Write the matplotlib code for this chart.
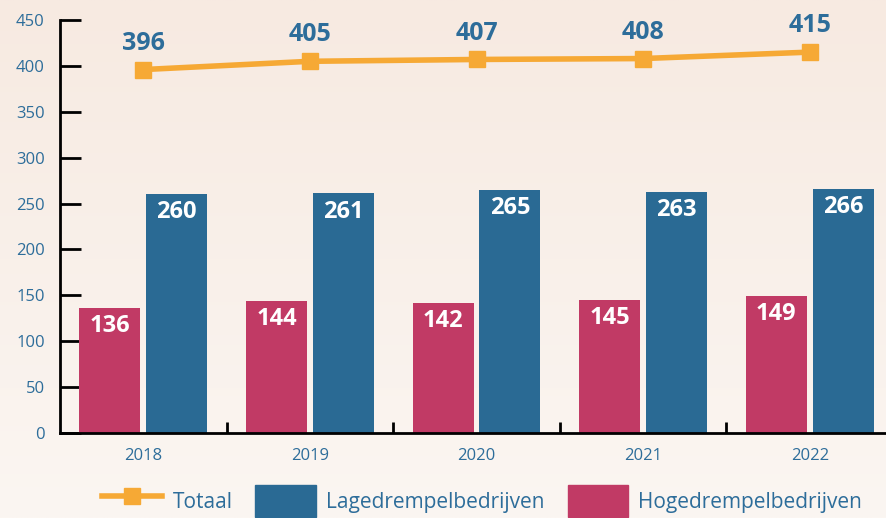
import numpy as np
import matplotlib
matplotlib.use("Agg")
import matplotlib.pyplot as plt
from matplotlib.lines import Line2D
from matplotlib.patches import Patch

plt.rcParams['font.family'] = ['Open Sans', 'DejaVu Sans']

years = ["2018", "2019", "2020", "2021", "2022"]
hoge = [136, 144, 142, 145, 149]
lage = [260, 261, 265, 263, 266]
totaal = [396, 405, 407, 408, 415]
yticks = [0, 50, 100, 150, 200, 250, 300, 350, 400, 450]

BLUE = "#2a6a94"
PINK = "#c13a65"
ORANGE = "#f6a935"
TXT = "#2d6d9a"

W, H = 886, 518
fig = plt.figure(figsize=(W / 100, H / 100), dpi=100)

# background gradient
bg = fig.add_axes([0, 0, 1, 1], zorder=-10)
top = np.array([247, 234, 225]) / 255
bot = np.array([251, 246, 242]) / 255
t = np.linspace(0, 1, 256)[:, None]
grad = top[None, None, :] * (1 - t[:, :, None]) + bot[None, None, :] * t[:, :, None]
grad = np.repeat(grad, 4, axis=1)
bg.imshow(grad, aspect='auto', extent=[0, 1, 0, 1], origin='upper')
bg.axis('off')

ax = fig.add_axes([60 / W, (H - 433) / H, 833 / W, 413 / H])
ax.patch.set_alpha(0)

x = np.arange(len(years))
bw = 0.366
off = 0.2
ax.bar(x - off, hoge, bw, color=PINK, zorder=2)
ax.bar(x + off, lage, bw, color=BLUE, zorder=2)
ax.plot(x, totaal, color=ORANGE, lw=4, marker='s', ms=11, zorder=3,
        solid_capstyle='round')

for xi, v in zip(x, hoge):
    ax.annotate(str(v), (xi - off, v), xytext=(0, -13), textcoords='offset points',
                ha='center', va='center', color='white', fontsize=17, fontweight='bold')
for xi, v in zip(x, lage):
    ax.annotate(str(v), (xi + off, v), xytext=(0, -13), textcoords='offset points',
                ha='center', va='center', color='white', fontsize=17, fontweight='bold')
for xi, v in zip(x, totaal):
    ax.annotate(str(v), (xi, v), xytext=(0, 19), textcoords='offset points',
                ha='center', va='center', color=TXT, fontsize=18, fontweight='bold')

ax.set_xlim(-0.5, len(years) - 0.5)
ax.set_ylim(0, 450)
ax.set_yticks(yticks)
ax.set_xticks(x)
ax.set_xticklabels(years)
ax.set_xticks(np.arange(len(years)) + 0.5, minor=True)

for s in ['top', 'right']:
    ax.spines[s].set_visible(False)
for s in ['left', 'bottom']:
    ax.spines[s].set_linewidth(2)
    ax.spines[s].set_color('black')

ax.tick_params(axis='y', direction='in', length=15, width=2, pad=11,
               labelsize=12, labelcolor=TXT, color='black')
ax.tick_params(axis='x', which='major', length=0, pad=11, labelsize=12, labelcolor=TXT)
ax.tick_params(axis='x', which='minor', direction='in', length=8, width=2, color='black')

handles = [Line2D([0], [0], color=ORANGE, lw=4, marker='s', ms=11),
           Patch(color=BLUE), Patch(color=PINK)]
labels = ["Totaal", "Lagedrempelbedrijven", "Hogedrempelbedrijven"]
fig.legend(handles, labels, loc='center', bbox_to_anchor=(482 / W, (H - 501) / H),
           ncol=3, frameon=False, fontsize=15, labelcolor=TXT,
           handlelength=2.9, handleheight=2.0, handletextpad=0.5, columnspacing=1.1,
           borderpad=0, borderaxespad=0)

fig.savefig("out.png", dpi=100)
